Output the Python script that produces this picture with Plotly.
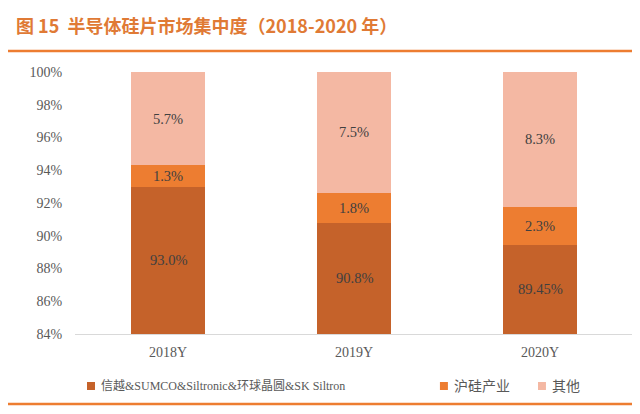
import plotly.graph_objects as go

years = ["2018Y", "2019Y", "2020Y"]
big_five = [93.0, 90.8, 89.45]
hugui = [1.3, 1.8, 2.3]
others = [5.7, 7.5, 8.3]

big_five_txt = ["93.0%", "90.8%", "89.45%"]
hugui_txt = ["1.3%", "1.8%", "2.3%"]
others_txt = ["5.7%", "7.5%", "8.3%"]

y_ticks = [84, 86, 88, 90, 92, 94, 96, 98, 100]
y_ticktext = ["84%", "86%", "88%", "90%", "92%", "94%", "96%", "98%", "100%"]
y_min, y_max = 84, 100

serif = "Liberation Serif, Noto Sans CJK SC"
label_font = dict(family=serif, size=14.5, color="#404040")

series = [
    ("信越&SUMCO&Siltronic&环球晶圆&SK Siltron", big_five, big_five_txt, "#C5622A"),
    ("沪硅产业", hugui, hugui_txt, "#ED7D31"),
    ("其他", others, others_txt, "#F4B8A3"),
]

fig = go.Figure()

for i, (name, vals, txt, color) in enumerate(series):
    fig.add_trace(go.Bar(
        x=years,
        y=vals,
        name=name,
        marker=dict(color=color, line=dict(width=0)),
        # bottom segment mostly lies below the axis range, its labels go in as annotations
        text=txt if i > 0 else None,
        textposition="inside",
        insidetextanchor="middle",
        constraintext="none",
        textfont=label_font,
        width=0.4,
        showlegend=False,
    ))

for yr, v, t in zip(years, big_five, big_five_txt):
    fig.add_annotation(x=yr, y=(y_min + v) / 2, text=t, showarrow=False,
                       font=label_font)

# page body has an 8px margin, so the figure is drawn 8px smaller
fig.update_layout(
    barmode="stack",
    width=632,
    height=406,
    margin=dict(l=67, r=7, t=64, b=80),
    plot_bgcolor="white",
    paper_bgcolor="white",
    xaxis=dict(
        showline=True, linecolor="#D9D9D9", linewidth=1,
        ticks="outside", ticklen=5, tickcolor="rgba(0,0,0,0)",
        tickfont=dict(family=serif, size=14, color="#595959"),
        showgrid=False,
    ),
    yaxis=dict(
        range=[y_min, y_max],
        tickvals=y_ticks,
        ticktext=y_ticktext,
        tickfont=dict(family=serif, size=14, color="#595959"),
        showgrid=False, showline=False, zeroline=False,
        ticks="outside", ticklen=9, tickcolor="rgba(0,0,0,0)",
    ),
)

# title and the two orange rules
fig.add_annotation(
    xref="paper", yref="paper",
    x=-0.109, y=1.179, xanchor="left", yanchor="middle",
    text="<b>图 15  半导体硅片市场集中度（2018-2020 年）</b>",
    showarrow=False,
    font=dict(family="Noto Sans CJK SC", size=18, color="#E07A35"),
)
for yy in [1.080, -0.267]:
    fig.add_shape(type="line", xref="paper", yref="paper",
                  x0=-0.125, x1=1.005, y0=yy, y1=yy,
                  line=dict(color="#ED7D31", width=2.5))

# legend drawn by hand so the items sit where the reference has them
legend_x = [0.0215, 0.654, 0.8297]
legend_size = [12, 14, 14]
for (name, vals, txt, color), lx, fs in zip(series, legend_x, legend_size):
    fig.add_shape(type="rect", xref="paper", yref="paper",
                  x0=lx, x1=lx + 0.0143, y0=-0.2137, y1=-0.1832,
                  fillcolor=color, line=dict(width=0))
    fig.add_annotation(
        xref="paper", yref="paper",
        x=lx + 0.021, y=-0.1985, xanchor="left", yanchor="middle",
        text=name, showarrow=False,
        font=dict(family=serif, size=fs, color="#595959"),
    )

fig.write_html("out.html")
